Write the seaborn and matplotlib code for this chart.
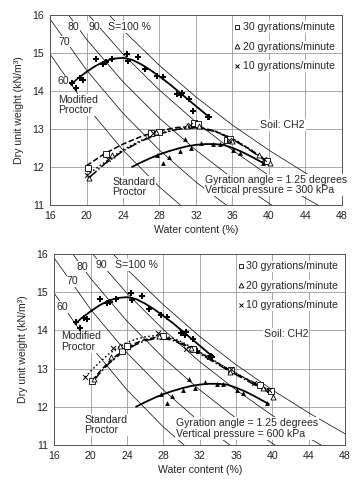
import numpy as np
import matplotlib
matplotlib.use("Agg")
import matplotlib.pyplot as plt
from matplotlib.lines import Line2D
import seaborn as sns

# -----------------------------
# Data
# -----------------------------
# Proctor tests (same in both panels)
mod_w = [18.4, 18.85, 19.3, 19.6, 21.0, 21.8, 22.1, 22.75, 24.4, 24.6, 25.6, 26.4,
         27.75, 28.4, 29.9, 30.4, 30.5, 31.25, 31.7, 33.3, 33.4]
mod_g = [14.22, 14.07, 14.33, 14.29, 14.83, 14.71, 14.75, 14.83, 14.97, 14.79, 14.89, 14.57,
         14.39, 14.36, 13.92, 13.89, 13.95, 13.78, 13.46, 13.32, 13.3]
mod_curve_w = [18.3, 19, 20, 21, 22, 23, 24, 25, 26, 27, 28, 29, 30, 31, 32, 33, 33.5]
mod_curve_g = [14.17, 14.32, 14.5, 14.66, 14.78, 14.85, 14.87, 14.82, 14.7, 14.55, 14.38,
               14.2, 14.0, 13.8, 13.6, 13.4, 13.3]

std_w = [27.7, 28.4, 29.0, 30.2, 30.8, 31.5, 32.6, 33.9, 34.6, 36.1, 36.8, 39.4]
std_g = [12.32, 12.1, 12.27, 12.43, 12.73, 12.49, 12.64, 12.6, 12.6, 12.45, 12.36, 12.11]
std_curve_w = [25, 26, 27, 28, 29, 30, 31, 32, 33, 34, 35, 36, 37, 38, 39, 39.6]
std_curve_g = [12.0, 12.12, 12.23, 12.33, 12.41, 12.48, 12.54, 12.58, 12.6, 12.6, 12.58,
               12.5, 12.4, 12.28, 12.15, 12.07]

# Gyratory, 300 kPa
p300_30_w = [20.2, 22.1, 27.1, 27.9, 31.8, 32.2, 35.4, 35.7, 39.8]
p300_30_g = [11.97, 12.35, 12.9, 12.93, 13.15, 13.12, 12.71, 12.73, 12.15]
p300_20_w = [20.3, 22.8, 27.6, 31.0, 32.3, 35.9, 38.9, 40.1]
p300_20_g = [11.72, 12.3, 12.92, 13.08, 13.07, 12.68, 12.3, 12.1]
p300_10_w = [20.0, 22.4, 27.3, 31.3, 35.6, 39.5]
p300_10_g = [11.78, 12.22, 12.88, 13.1, 12.7, 12.2]

p300_30_cw = [20.0, 22, 24, 26, 28, 30, 32, 34, 36, 38, 40]
p300_30_cg = [12.03, 12.35, 12.6, 12.8, 12.95, 13.04, 13.06, 12.95, 12.74, 12.45, 12.13]
p300_20_cw = [20.3, 22, 24, 26, 28, 30, 32, 34, 36, 38, 40]
p300_20_cg = [11.72, 12.08, 12.42, 12.68, 12.87, 12.99, 13.03, 12.94, 12.73, 12.43, 12.1]
p300_10_cw = [20.0, 22, 24, 26, 28, 30, 32, 34, 36, 38, 39.7]
p300_10_cg = [11.78, 12.12, 12.45, 12.7, 12.88, 13.0, 13.04, 12.95, 12.75, 12.45, 12.15]

# Gyratory, 600 kPa
p600_30_w = [20.2, 23.4, 24.0, 28.0, 31.3, 35.4, 38.6, 39.9]
p600_30_g = [12.68, 13.47, 13.6, 13.85, 13.5, 12.95, 12.58, 12.42]
p600_20_w = [20.4, 22.2, 23.2, 27.5, 31.0, 35.3, 39.0, 40.1]
p600_20_g = [12.73, 13.3, 13.58, 13.85, 13.55, 12.9, 12.5, 12.25]
p600_10_w = [19.4, 22.5, 27.4, 30.5, 33.0, 35.5, 38.0, 39.6]
p600_10_g = [12.77, 13.55, 13.93, 13.5, 13.3, 12.98, 12.62, 12.45]

p600_30_cw = [20.2, 21, 22, 23, 24, 25, 26, 27, 28, 29, 30, 31, 32, 33, 34, 35, 36, 37, 38, 39, 39.9]
p600_30_cg = [12.68, 12.92, 13.17, 13.37, 13.54, 13.67, 13.76, 13.81, 13.82, 13.77, 13.67,
              13.55, 13.42, 13.28, 13.14, 13.0, 12.87, 12.74, 12.62, 12.5, 12.4]
p600_20_cw = [20.4, 21, 22, 23, 24, 25, 26, 27, 28, 29, 30, 31, 32, 33, 34, 35, 36, 37, 38, 39, 40]
p600_20_cg = [12.7, 12.88, 13.13, 13.33, 13.5, 13.63, 13.73, 13.78, 13.79, 13.74, 13.64,
              13.52, 13.39, 13.25, 13.11, 12.97, 12.84, 12.71, 12.58, 12.46, 12.33]
p600_10_cw = [19.4, 20, 21, 22, 23, 24, 25, 26, 27, 28, 29, 30, 31, 32, 33, 34, 35, 36, 37, 38, 39, 39.7]
p600_10_cg = [12.77, 12.93, 13.17, 13.38, 13.55, 13.68, 13.77, 13.83, 13.86, 13.85, 13.8,
              13.7, 13.57, 13.43, 13.29, 13.15, 13.01, 12.88, 12.75, 12.63, 12.51, 12.43]

# Saturation lines (S = 60 ... 100 %)
sat_w = [16, 20, 24, 28, 32, 36, 40, 44, 48]
sat_100 = [17.88, 16.66, 15.60, 14.67, 13.84, 13.10, 12.44, 11.84, 11.29]
sat_90 = [17.32, 16.06, 14.97, 14.02, 13.18, 12.44, 11.77, 11.18, 10.64]
sat_80 = [16.66, 15.36, 14.24, 13.28, 12.44, 11.70, 11.04, 10.45, 9.92]
sat_70 = [15.89, 14.55, 13.41, 12.44, 11.60, 10.87, 10.22, 9.65, 9.13]
sat_60 = [14.97, 13.59, 12.44, 11.47, 10.64, 9.92, 9.29, 8.74, 8.24]
sat_lines = [sat_60, sat_70, sat_80, sat_90, sat_100]

x_ticks = [16, 20, 24, 28, 32, 36, 40, 44, 48]
y_ticks = [11, 12, 13, 14, 15, 16]

# -----------------------------
# Style
# -----------------------------
sns.set_style("white")
plt.rcParams["font.family"] = ["Liberation Sans", "DejaVu Sans"]
FS = 7.6
WHITE = dict(facecolor="white", edgecolor="none", pad=0.6)

fig = plt.figure(figsize=(3.55, 4.82), dpi=100)
ax_top = fig.add_axes([0.141, 0.575, 0.822, 0.394])
ax_bot = fig.add_axes([0.153, 0.077, 0.819, 0.396])


def draw_panel(ax, gyr, pressure, sat_lab, mod_lab, std_lab, press_lab, soil_lab):
    # saturation lines
    for s in sat_lines:
        sns.lineplot(x=sat_w, y=s, ax=ax, color="black", lw=0.5, zorder=1)

    # Proctor curves and points
    sns.lineplot(x=mod_curve_w, y=mod_curve_g, ax=ax, color="black", lw=1.3, zorder=4)
    sns.scatterplot(x=mod_w, y=mod_g, ax=ax, marker="P", color="black", s=18,
                    linewidth=0, zorder=5)
    sns.lineplot(x=std_curve_w, y=std_curve_g, ax=ax, color="black", lw=1.3, zorder=4)
    sns.scatterplot(x=std_w, y=std_g, ax=ax, marker="^", color="black", s=12,
                    linewidth=0, zorder=5)

    # gyratory curves and points
    styles = [("--", "s"), ("-.", "^"), (":", "x")]
    for (pw, pg, cw, cg), (ls, mk) in zip(gyr, styles):
        sns.lineplot(x=cw, y=cg, ax=ax, color="black", lw=1.1, ls=ls, zorder=4)
        if mk == "x":
            ax.scatter(pw, pg, marker="x", color="black", s=12, lw=0.7, zorder=5)
        else:
            ax.scatter(pw, pg, marker=mk, facecolors="white", edgecolors="black",
                       s=13, lw=0.6, zorder=5)

    # labels on saturation lines
    for txt, (x, y) in zip(["60", "70", "80", "90", "S=100 %"], sat_lab):
        ax.text(x, y, txt, fontsize=FS, ha="center", va="center", bbox=WHITE, zorder=3)

    ax.text(mod_lab[0], mod_lab[1], "Modified\nProctor", fontsize=FS, ha="left",
            va="center", linespacing=1.1, bbox=WHITE, zorder=3)
    ax.text(std_lab[0], std_lab[1], "Standard\nProctor", fontsize=FS, ha="left",
            va="center", linespacing=1.1, bbox=WHITE, zorder=3)
    ax.text(press_lab[0], press_lab[1],
            "Gyration angle = 1.25 degrees\nVertical pressure = %d kPa" % pressure,
            fontsize=FS, ha="left", va="center", linespacing=1.1, bbox=WHITE, zorder=3)
    ax.text(soil_lab[0], soil_lab[1], "Soil: CH2", fontsize=FS, ha="center",
            va="center", bbox=WHITE, zorder=3)

    # legend
    handles = [
        Line2D([], [], ls="none", marker="s", mfc="white", mec="black", ms=3.5, mew=0.6),
        Line2D([], [], ls="none", marker="^", mfc="white", mec="black", ms=3.5, mew=0.6),
        Line2D([], [], ls="none", marker="x", color="black", ms=3.5, mew=0.7),
    ]
    leg = ax.legend(handles, ["30 gyrations/minute", "20 gyrations/minute",
                              "10 gyrations/minute"],
                    loc="upper right", frameon=False, fontsize=FS, handlelength=0.6,
                    handletextpad=0.2, labelspacing=0.9, borderaxespad=0.3)
    for t in leg.get_texts():
        t.set_bbox(WHITE)
    leg.set_zorder(6)

    ax.set_xlim(16, 48)
    ax.set_ylim(11, 16)
    ax.set_xticks(x_ticks)
    ax.set_yticks(y_ticks)
    ax.grid(True, color="#9a9a9a", lw=0.6)
    ax.set_axisbelow(True)
    ax.tick_params(labelsize=FS, length=2.5, width=0.6, direction="out", pad=2,
                   colors="#333333", labelcolor="#222222")
    for sp in ax.spines.values():
        sp.set_color("#555555")
        sp.set_linewidth(0.7)
    ax.set_xlabel("Water content (%)", fontsize=FS, labelpad=3)
    ax.set_ylabel("Dry unit weight (kN/m³)", fontsize=FS, labelpad=6)


# -----------------------------
# Top panel: 300 kPa
# -----------------------------
draw_panel(
    ax_top,
    [(p300_30_w, p300_30_g, p300_30_cw, p300_30_cg),
     (p300_20_w, p300_20_g, p300_20_cw, p300_20_cg),
     (p300_10_w, p300_10_g, p300_10_cw, p300_10_cg)],
    300,
    [(17.5, 14.25), (17.6, 15.3), (18.6, 15.68), (20.8, 15.68), (24.7, 15.68)],
    (16.9, 13.63), (22.8, 11.47), (33.0, 11.52), (41.5, 13.1),
)

# -----------------------------
# Bottom panel: 600 kPa
# -----------------------------
draw_panel(
    ax_bot,
    [(p600_30_w, p600_30_g, p600_30_cw, p600_30_cg),
     (p600_20_w, p600_20_g, p600_20_cw, p600_20_cg),
     (p600_10_w, p600_10_g, p600_10_cw, p600_10_cg)],
    600,
    [(16.9, 14.62), (18.0, 15.28), (19.1, 15.67), (21.2, 15.72), (25.0, 15.72)],
    (16.8, 13.7), (19.3, 11.52), (29.4, 11.43), (41.5, 13.9),
)

fig.savefig("out.png", dpi=100)
